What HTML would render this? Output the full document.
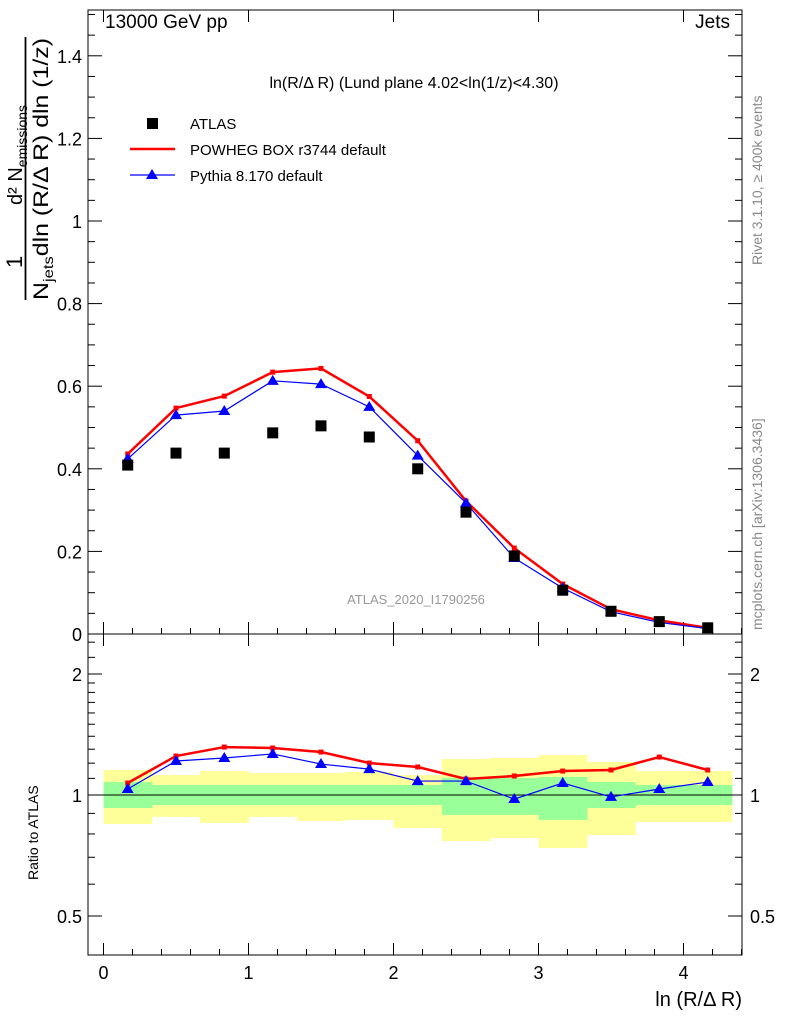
<!DOCTYPE html>
<html><head><meta charset="utf-8"><style>
body{margin:0;background:#fff;font-family:"Liberation Sans",sans-serif}
svg text{font-family:"Liberation Sans",sans-serif}
</style></head><body>
<svg id="c" width="786" height="1024" xmlns="http://www.w3.org/2000/svg">
<text x="105" y="28" font-size="19">13000 GeV pp</text>
<text x="730" y="28" font-size="19" text-anchor="end">Jets</text>
<text x="414" y="88" font-size="16" text-anchor="middle">ln(R/Δ R) (Lund plane 4.02&lt;ln(1/z)&lt;4.30)</text>
<text x="416" y="604" font-size="13" fill="#999" text-anchor="middle">ATLAS_2020_I1790256</text>
<text transform="translate(762,265) rotate(-90)" font-size="14" fill="#888">Rivet 3.1.10, ≥ 400k events</text>
<text transform="translate(762,630) rotate(-90)" font-size="14" fill="#888">mcplots.cern.ch [arXiv:1306.3436]</text>
<g>
<text transform="translate(22,268) rotate(-90)" font-size="22">1</text>
<line x1="25.5" y1="300" x2="25.5" y2="37" stroke="#000" stroke-width="1.8"/>
<text transform="translate(22,205) rotate(-90)" font-size="20">d² N<tspan font-size="14" dy="5">emissions</tspan></text>
<text transform="translate(48,300) rotate(-90)" font-size="21" textLength="262" lengthAdjust="spacingAndGlyphs">N<tspan font-size="14" dy="5">jets</tspan><tspan dy="-5">dln (R/Δ R) dln (1/z)</tspan></text>
</g>
<text transform="translate(38,880) rotate(-90)" font-size="14">Ratio to ATLAS</text>
<text x="742" y="1006" font-size="20" text-anchor="end">ln (R/Δ R)</text>
<g id="topg"></g><g id="botg"></g>
<g>
<g><rect x="147" y="118" width="11" height="11" fill="#000"/><text x="190" y="129" font-size="15">ATLAS</text></g>
<g><line x1="130" y1="149" x2="175" y2="149" stroke="red" stroke-width="2.5"/><text x="190" y="155" font-size="15">POWHEG BOX r3744 default</text></g>
<g><line x1="130" y1="175" x2="175" y2="175" stroke="blue" stroke-width="1.2"/><polygon points="152,169 158,179 146,179" fill="blue"/><text x="190" y="181" font-size="15">Pythia 8.170 default</text></g>
</g>
</svg>
<script>
const xs=[0.167,0.5,0.833,1.167,1.5,1.833,2.167,2.5,2.833,3.167,3.5,3.833,4.167];
const atlas=[0.409,0.438,0.438,0.487,0.504,0.477,0.40,0.295,0.189,0.106,0.055,0.030,0.015];
const powheg=[0.436,0.547,0.576,0.634,0.643,0.575,0.468,0.322,0.208,0.121,0.060,0.033,0.015];
const pythia=[0.424,0.530,0.540,0.613,0.605,0.550,0.432,0.317,0.184,0.111,0.054,0.028,0.013];
const rPow=[1.071,1.25,1.316,1.309,1.279,1.201,1.174,1.096,1.115,1.147,1.154,1.243,1.154];
const rPyt=[1.035,1.215,1.236,1.265,1.194,1.16,1.083,1.083,0.977,1.071,0.989,1.035,1.077];
const yelHi=[1.154,1.121,1.147,1.134,1.134,1.141,1.121,1.229,1.236,1.257,1.208,1.147,1.147];
const yelLo=[0.847,0.882,0.852,0.882,0.862,0.867,0.828,0.768,0.782,0.738,0.795,0.857,0.857];
const grnHi=[1.077,1.059,1.059,1.059,1.059,1.059,1.059,1.102,1.102,1.109,1.077,1.059,1.059];
const grnLo=[0.928,0.944,0.944,0.944,0.944,0.944,0.944,0.892,0.892,0.867,0.928,0.944,0.944];
const xTicks=[0,1,2,3,4];
const yTicks=[0,0.2,0.4,0.6,0.8,1,1.2,1.4];
const rTicks=[0.5,1,2];
const NS="http://www.w3.org/2000/svg";
const L=88,R=742,T=10,M=634,B=955;
const X=v=>103.5+v*145;
const Y=v=>634-v*413;
const RY=v=>795-Math.log2(v)*121;
function mk(p,tag,a){const e=document.createElementNS(NS,tag);for(const k in a)e.setAttribute(k,a[k]);p.appendChild(e);return e;}
const topG=document.getElementById('topg'),botG=document.getElementById('botg');
const bw=1/3;
xs.forEach((x,i)=>{
 const y=mk(botG,'rect',{x:X(x-bw/2),y:RY(yelHi[i]),width:X(x+bw/2)-X(x-bw/2)+0.5,height:RY(yelLo[i])-RY(yelHi[i]),fill:'#ffff99'});
 
 
});
xs.forEach((x,i)=>{
 const g=mk(botG,'rect',{x:X(x-bw/2),y:RY(grnHi[i]),width:X(x+bw/2)-X(x-bw/2)+0.5,height:RY(grnLo[i])-RY(grnHi[i]),fill:'#99ff99'});
 
 
});
mk(botG,'line',{x1:L,x2:R,y1:RY(1),y2:RY(1),stroke:'#000','stroke-width':1});
const f1=mk(topG,'rect',{x:L,y:T,width:R-L,height:M-T,fill:'none',stroke:'#000','stroke-width':1});


const f2=mk(botG,'rect',{x:L,y:M,width:R-L,height:B-M,fill:'none',stroke:'#000','stroke-width':1});


xTicks.forEach(t=>{
 mk(topG,'line',{x1:X(t),x2:X(t),y1:M,y2:M-12,stroke:'#000'});
 mk(topG,'line',{x1:X(t),x2:X(t),y1:T,y2:T+12,stroke:'#000'});
 mk(botG,'line',{x1:X(t),x2:X(t),y1:B,y2:B-12,stroke:'#000'});
 mk(botG,'line',{x1:X(t),x2:X(t),y1:M,y2:M+12,stroke:'#000'});
 for(let k=1;k<5;k++){const m=t+k*0.2;if(X(m)<R){mk(botG,'line',{x1:X(m),x2:X(m),y1:B,y2:B-6,stroke:'#000'});mk(topG,'line',{x1:X(m),x2:X(m),y1:M,y2:M-6,stroke:'#000'});}}
 const l=mk(botG,'text',{x:X(t),y:979,'font-size':18,'text-anchor':'middle'});l.textContent=t;
 
 
});
yTicks.forEach(t=>{
 mk(topG,'line',{x1:L,x2:L+14,y1:Y(t),y2:Y(t),stroke:'#000'});
 mk(topG,'line',{x1:R,x2:R-14,y1:Y(t),y2:Y(t),stroke:'#000'});
 for(let k=1;k<4;k++){const m=Y(t+k*0.05);if(m>T){mk(topG,'line',{x1:L,x2:L+7,y1:m,y2:m,stroke:'#000'});mk(topG,'line',{x1:R,x2:R-7,y1:m,y2:m,stroke:'#000'});}}
 const l=mk(topG,'text',{x:82,y:Y(t)+7,'font-size':18,'text-anchor':'end'});l.textContent=t;
 
 
});
rTicks.forEach(t=>{
 mk(botG,'line',{x1:L,x2:L+14,y1:RY(t),y2:RY(t),stroke:'#000'});
 mk(botG,'line',{x1:R,x2:R-14,y1:RY(t),y2:RY(t),stroke:'#000'});
 const l=mk(botG,'text',{x:82,y:RY(t)+7,'font-size':18,'text-anchor':'end'});l.textContent=t;
 
 
 const l2=mk(botG,'text',{x:750,y:RY(t)+7,'font-size':18});l2.textContent=t;
 
 
});
[0.6,0.7,0.8,0.9,1.1,1.2,1.3,1.4,1.5,1.6,1.7,1.8,1.9,2.2,2.4].forEach(t=>{
 mk(botG,'line',{x1:L,x2:L+7,y1:RY(t),y2:RY(t),stroke:'#000'});mk(botG,'line',{x1:R,x2:R-7,y1:RY(t),y2:RY(t),stroke:'#000'});
});
function line(p,arr,f,col,w,name){
 const e=mk(p,'polyline',{points:xs.map((x,i)=>X(x)+','+f(arr[i])).join(' '),fill:'none',stroke:col,'stroke-width':w});
 
 
}
line(topG,powheg,Y,'red',2.5,'powheg-line');
line(topG,pythia,Y,'blue',1.2,'pythia-line');
line(botG,rPow,RY,'red',2.5,'powheg-ratio-line');
line(botG,rPyt,RY,'blue',1.2,'pythia-ratio-line');
function reds(p,arr,f,name){xs.forEach((x,i)=>{
 const r=mk(p,'rect',{x:X(x)-2.5,y:f(arr[i])-2.5,width:5,height:5,fill:'red'});
 
 });}
reds(topG,powheg,Y,'powheg-point');
reds(botG,rPow,RY,'powheg-ratio-point');
function tris(p,arr,f,name){xs.forEach((x,i)=>{const cx=X(x),cy=f(arr[i]);
 const t=mk(p,'polygon',{points:`${cx},${cy-6} ${cx+6},${cy+4} ${cx-6},${cy+4}`,fill:'blue'});
 
 });}
tris(topG,pythia,Y,'pythia-point');
tris(botG,rPyt,RY,'pythia-ratio-point');
xs.forEach((x,i)=>{
 const r=mk(topG,'rect',{x:X(x)-5.5,y:Y(atlas[i])-5.5,width:11,height:11,fill:'#000'});
 
 
});
</script>
</body></html>
